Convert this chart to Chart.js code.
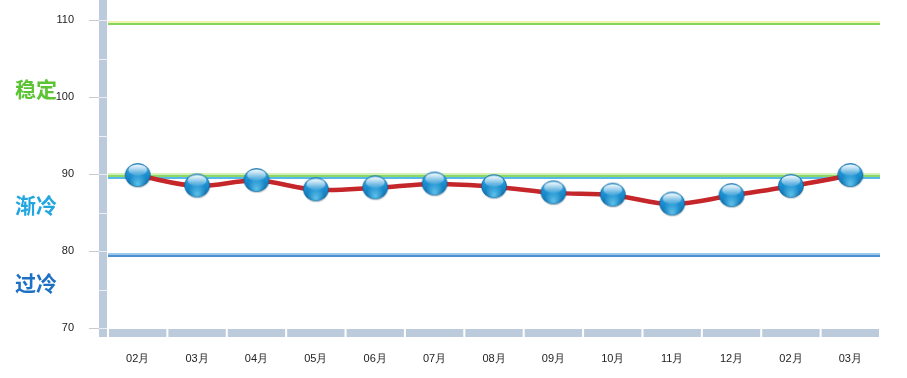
<!DOCTYPE html>
<html><head><meta charset="utf-8">
<script src="https://cdn.jsdelivr.net/npm/chart.js@4"></script>
<style>html,body{margin:0;padding:0;background:#fff;}canvas{display:block;}</style>
</head><body>
<canvas id="c" width="907" height="378"></canvas>
<script>
const categories = ['02月','03月','04月','05月','06月','07月','08月','09月','10月','11月','12月','02月','03月'];
const values = [89.8, 88.45, 89.15, 87.95, 88.2, 88.7, 88.35, 87.55, 87.25, 86.1, 87.2, 88.4, 89.8];
const yTicks = [70, 80, 90, 100, 110];
const yMinorTicks = [75, 85, 95, 105];
const refLineValues = [109.6, 89.9, 89.5, 79.5];
const zoneLabels = ['稳定', '渐冷', '过冷'];
const zoneLabelValues = [101.1, 86.0, 75.8];

const refStyles = [
  {colors:['#eef4b0','#84d65a'], w:2},
  {colors:['#d4f0b8','#8ad868'], w:2},
  {colors:['#58b8ea'], w:2},
  {colors:['#9cc8ec','#4f8fd0'], w:2}
];
const zoneColors = ['#5cc434', '#22a6e0', '#1e70c4'];

function makeBall(){
  const cv = document.createElement('canvas');
  cv.width = 28; cv.height = 27;
  const g = cv.getContext('2d');
  const cx = 14, cy = 13, rx = 12.5, ry = 11.5;
  g.fillStyle = 'rgba(0,0,0,0.15)';
  g.beginPath(); g.ellipse(cx+0.5, cy+1.5, rx, ry, 0, 0, Math.PI*2); g.fill();
  const lg = g.createLinearGradient(0, cy-ry, 0, cy+ry);
  lg.addColorStop(0, '#3aa8e0');
  lg.addColorStop(0.5, '#1a8ed0');
  lg.addColorStop(1, '#0a6aa8');
  g.fillStyle = lg;
  g.beginPath(); g.ellipse(cx, cy, rx, ry, 0, 0, Math.PI*2); g.fill();
  g.strokeStyle = '#0c5f98'; g.lineWidth = 0.8; g.stroke();
  const rg = g.createRadialGradient(cx, cy+9, 1, cx, cy+6, 9);
  rg.addColorStop(0, 'rgba(120,220,255,0.7)');
  rg.addColorStop(1, 'rgba(120,220,255,0)');
  g.fillStyle = rg;
  g.beginPath(); g.ellipse(cx, cy, rx, ry, 0, 0, Math.PI*2); g.fill();
  const hg = g.createLinearGradient(0, cy-ry+1, 0, cy);
  hg.addColorStop(0, 'rgba(255,255,255,0.95)');
  hg.addColorStop(1, 'rgba(255,255,255,0.15)');
  g.fillStyle = hg;
  g.beginPath(); g.ellipse(cx, cy-5, rx-3, ry-6, 0, 0, Math.PI*2); g.fill();
  return cv;
}
const ball = makeBall();

const decor = {
  id: 'decor',
  beforeDatasetsDraw(chart){
    const ctx = chart.ctx, a = chart.chartArea, y = chart.scales.y;
    ctx.save();
    refLineValues.forEach((v, i) => {
      const py = Math.round(y.getPixelForValue(v));
      const st = refStyles[i];
      st.colors.forEach((c, k) => {
        ctx.fillStyle = c;
        ctx.fillRect(a.left, py - st.colors.length*st.w/2 + k*st.w, a.right - a.left, st.w);
      });
    });
    const barL = a.left - 9, barR = a.left - 1;
    ctx.fillStyle = '#bccbdb';
    ctx.fillRect(barL, 0, barR - barL, a.bottom + 9);
    yTicks.forEach(v => {
      const py = Math.round(y.getPixelForValue(v)) + 0.5;
      ctx.strokeStyle = '#c8ccd0'; ctx.lineWidth = 1;
      ctx.beginPath(); ctx.moveTo(barL - 10, py); ctx.lineTo(barL, py); ctx.stroke();
      ctx.strokeStyle = '#e8eef4';
      ctx.beginPath(); ctx.moveTo(barL, py); ctx.lineTo(barR, py); ctx.stroke();
    });
    yMinorTicks.forEach(v => {
      const py = Math.round(y.getPixelForValue(v)) + 0.5;
      ctx.strokeStyle = '#eef2f6'; ctx.lineWidth = 1;
      ctx.beginPath(); ctx.moveTo(barL, py); ctx.lineTo(barR + 1, py); ctx.stroke();
    });
    ctx.fillStyle = '#bccbdb';
    ctx.fillRect(barL, a.bottom + 1, barR - barL, 8);
    const w = (a.right - a.left) / categories.length;
    for (let i = 0; i < categories.length; i++) {
      const l = a.left + i*w + 1, r = a.left + (i+1)*w - 1;
      ctx.fillRect(l, a.bottom + 1, r - l, 8);
    }
    ctx.font = 'bold 21px "Noto Sans CJK SC", sans-serif';
    ctx.textAlign = 'left'; ctx.textBaseline = 'middle';
    zoneLabels.forEach((t, i) => {
      ctx.fillStyle = zoneColors[i];
      ctx.fillText(t, 15, y.getPixelForValue(zoneLabelValues[i]));
    });
    ctx.restore();
  }
};

new Chart(document.getElementById('c'), {
  type: 'line',
  data: {
    labels: categories,
    datasets: [{
      data: values,
      borderColor: '#c4262a',
      borderWidth: 4.5,
      tension: 0.35,
      pointStyle: ball,
      pointRadius: 12,
      pointHoverRadius: 12,
      clip: false
    }]
  },
  options: {
    responsive: false,
    animation: false,
    events: [],
    layout: { autoPadding: false, padding: { left: 0, right: 27, top: 0, bottom: 0 } },
    plugins: { legend: { display: false }, tooltip: { enabled: false } },
    scales: {
      x: {
        offset: true,
        grid: { display: false, drawTicks: false },
        border: { display: false },
        ticks: { color: '#222', font: { size: 11, family: 'Liberation Sans, Arial, sans-serif' }, padding: 24, maxRotation: 0 },
        afterFit(s){ s.height = 50; s.paddingLeft = 0; s.paddingRight = 0; }
      },
      y: {
        min: 70, max: 112.6,
        bounds: 'data',
        afterBuildTicks(s){ s.ticks = yTicks.map(v => ({value: v})); },
        afterDataLimits(s){ s.min = 70; s.max = 112.6; },
        grid: { display: false, drawTicks: false },
        border: { display: false },
        ticks: { color: '#222', font: { size: 11, family: 'Liberation Sans, Arial, sans-serif' }, padding: 34 },
        afterFit(s){ s.width = 108; s.paddingTop = 0; s.paddingBottom = 0; }
      }
    }
  },
  plugins: [decor]
});
</script>
</body></html>
